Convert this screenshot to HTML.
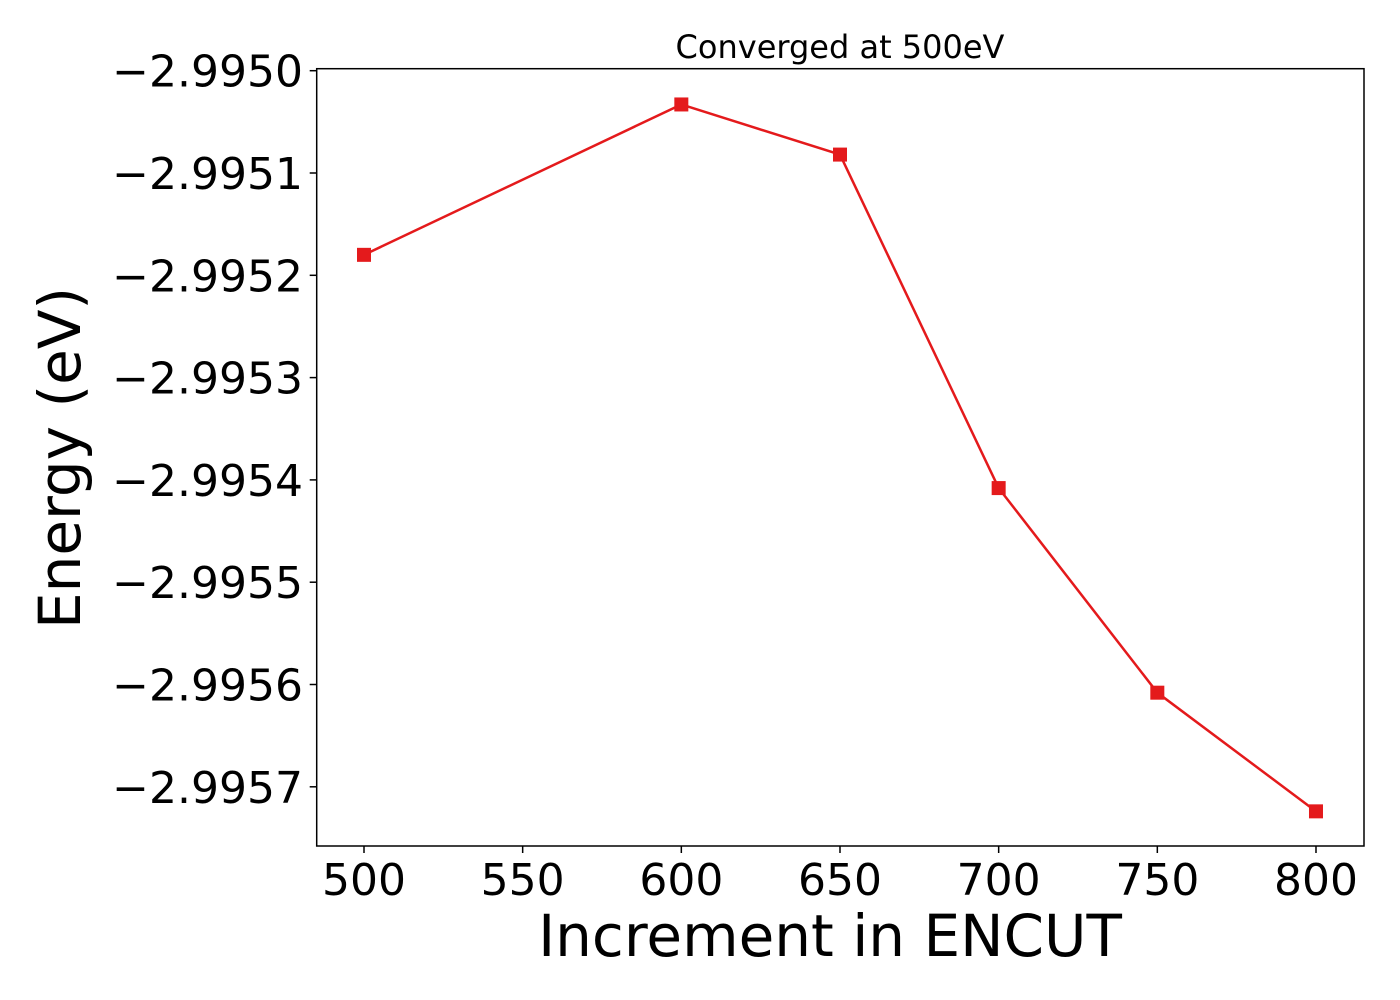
<!DOCTYPE html>
<html><head><meta charset="utf-8"><style>
body{margin:0;background:#fff;}
svg{display:block;font-family:"DejaVu Sans","Liberation Sans",sans-serif;}
</style></head><body>
<svg id="chart" width="1400" height="1000">
<text x="840" y="58" font-size="32" text-anchor="middle">Converged at 500eV</text>
<text x="830" y="956" font-size="58" text-anchor="middle">Increment in ENCUT</text>
<text transform="translate(80,458) rotate(-90)" font-size="58" text-anchor="middle">Energy (eV)</text>
<g id="axes"></g>
<rect x="316.7" y="68.7" width="1047.3" height="777.3" fill="none" stroke="#000" stroke-width="1.5"/>
</svg>
<script>
const xValues=[500,600,650,700,750,800];
const yValues=[-2.99518,-2.995033,-2.995082,-2.995408,-2.995608,-2.995724];
const xTicks=[500,550,600,650,700,750,800];
const yTicks=[-2.9950,-2.9951,-2.9952,-2.9953,-2.9954,-2.9955,-2.9956,-2.9957];
const yTickLabels=["\u22122.9950","\u22122.9951","\u22122.9952","\u22122.9953","\u22122.9954","\u22122.9955","\u22122.9956","\u22122.9957"];
const NS="http://www.w3.org/2000/svg";
const g=document.getElementById('axes');
function sx(v){return 364+(v-500)*3.1733;}
function sy(v){return 70.7+(-2.9950-v)*10000*102.3;}
function mk(t,a){const e=document.createElementNS(NS,t);for(const k in a)e.setAttribute(k,a[k]);g.appendChild(e);return e;}
xTicks.forEach(v=>{
  const l=mk('line',{x1:sx(v),x2:sx(v),y1:846,y2:853,stroke:'#000','stroke-width':1.5});
  
  
  const t=mk('text',{x:sx(v),y:895,'font-size':44,'text-anchor':'middle'});
  t.textContent=v;
  
  
});
yTicks.forEach((v,i)=>{
  const l=mk('line',{x1:309.7,x2:316.7,y1:sy(v),y2:sy(v),stroke:'#000','stroke-width':1.5});
  
  
  const t=mk('text',{x:303,y:sy(v)+16,'font-size':44,'text-anchor':'end'});
  t.textContent=yTickLabels[i];
  
  
});
const pts=xValues.map((x,i)=>sx(x)+','+sy(yValues[i])).join(' ');
const pl=mk('polyline',{points:pts,fill:'none',stroke:'#e41a1c','stroke-width':2.5});


xValues.forEach((x,i)=>{
  const r=mk('rect',{x:sx(x)-7,y:sy(yValues[i])-7,width:14,height:14,fill:'#e41a1c'});
  
  
});
</script>
</body></html>
